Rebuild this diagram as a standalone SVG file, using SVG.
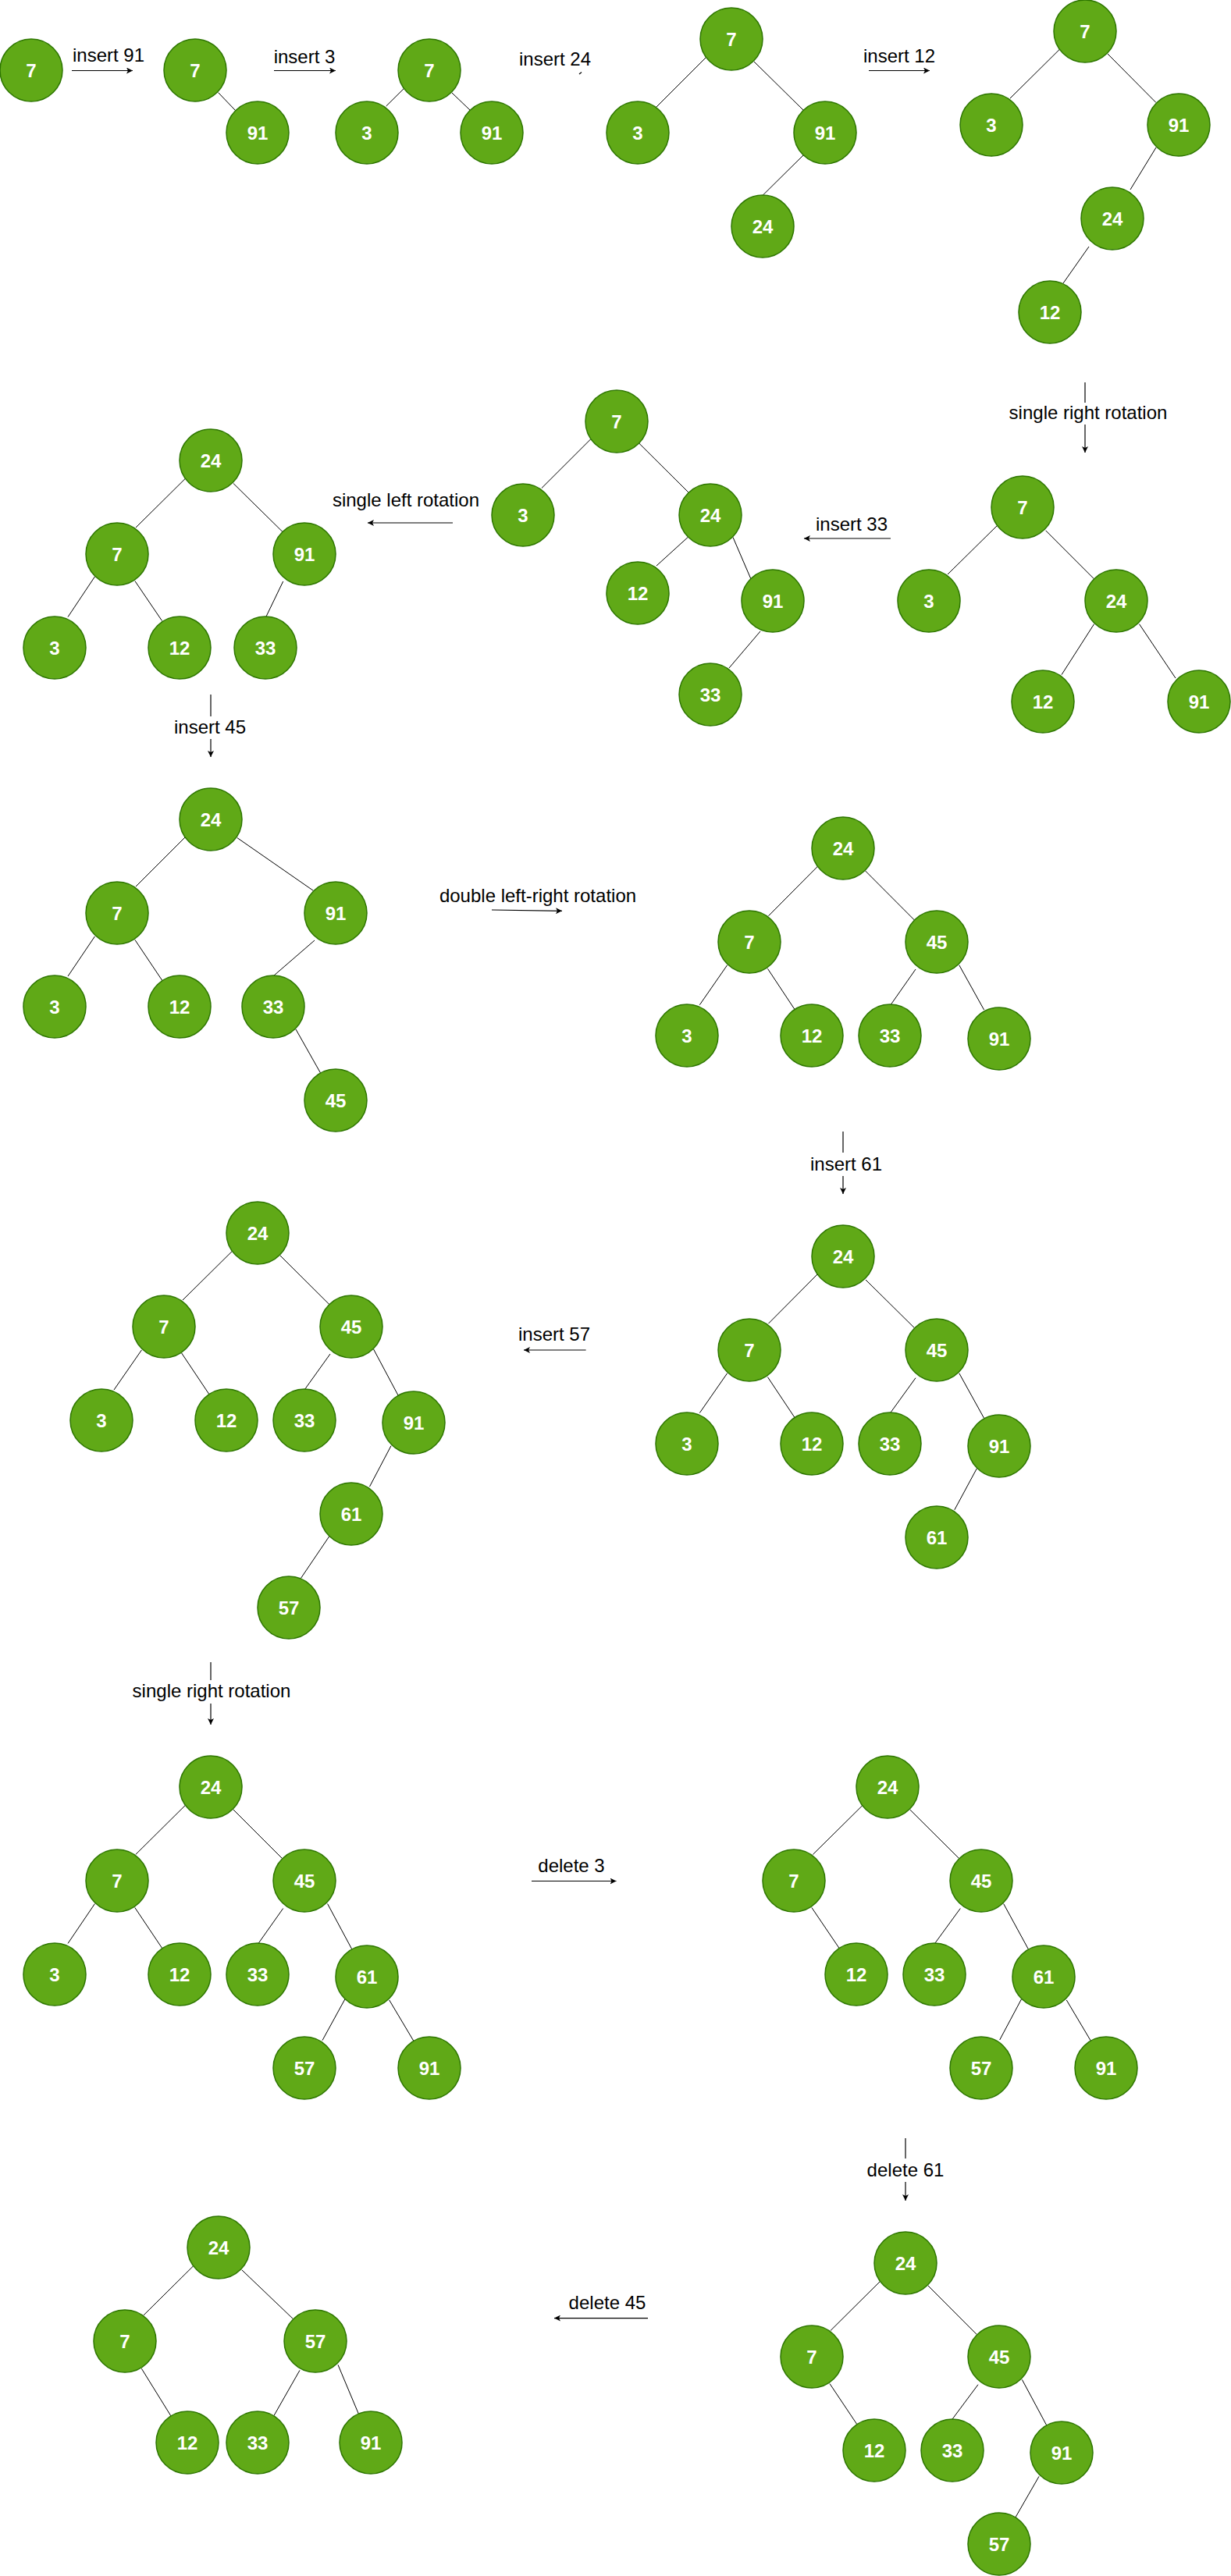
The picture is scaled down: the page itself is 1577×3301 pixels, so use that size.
<svg xmlns="http://www.w3.org/2000/svg" width="1577" height="3301" viewBox="0 0 1577 3301">
<style>
.node circle{fill:#60a917;stroke:#2d7600;stroke-width:1.5}
.node text{font-family:"Liberation Sans",Arial,Helvetica,sans-serif;font-weight:bold;font-size:24px;fill:#ffffff;text-anchor:middle}
.edge line{stroke:#000;stroke-width:1;fill:none}
.arr{stroke:#000;stroke-width:1.2;fill:none;marker-end:url(#ah)}
.lbl{font-family:"Liberation Sans",Arial,Helvetica,sans-serif;font-size:24px;fill:#000;text-anchor:middle}
.gap{fill:#fff}
</style>
<defs>
<marker id="ah" markerUnits="userSpaceOnUse" markerWidth="9" markerHeight="8" refX="8" refY="4" orient="auto">
<path d="M0,0 L8,4 L0,8 L2,4 z" fill="#000"/>
</marker>
</defs>
<rect width="1577" height="3301" fill="#fff"/>
<g id="connectors" class="edge">
<line x1="279.6" y1="118.6" x2="302" y2="142"/>
<line x1="520.4" y1="110.5" x2="494.7" y2="136"/>
<line x1="579" y1="119" x2="602" y2="141"/>
<line x1="907" y1="71" x2="841" y2="137"/>
<line x1="966" y1="79" x2="1029" y2="141"/>
<line x1="1029" y1="199" x2="977.4" y2="250"/>
<line x1="1360" y1="60.7" x2="1294" y2="126"/>
<line x1="1419" y1="69" x2="1481" y2="131.5"/>
<line x1="1481" y1="189" x2="1448" y2="243"/>
<line x1="1395" y1="316" x2="1362" y2="363"/>
<line x1="759.7" y1="559.8" x2="694" y2="625.4"/>
<line x1="818.7" y1="568" x2="881.7" y2="630.7"/>
<line x1="881.7" y1="688" x2="841" y2="725"/>
<line x1="939" y1="688.5" x2="962" y2="742"/>
<line x1="974" y1="809" x2="934" y2="856"/>
<line x1="1280" y1="671" x2="1214" y2="736"/>
<line x1="1339.6" y1="679.8" x2="1401.6" y2="741.9"/>
<line x1="1401.6" y1="799.7" x2="1360" y2="864.6"/>
<line x1="1459.5" y1="799.7" x2="1506" y2="869"/>
<line x1="240" y1="610.7" x2="174" y2="676"/>
<line x1="299" y1="619.5" x2="362" y2="681.5"/>
<line x1="121.4" y1="739" x2="87" y2="790.6"/>
<line x1="173" y1="744.7" x2="207.5" y2="795.5"/>
<line x1="362.7" y1="745" x2="341" y2="790"/>
<line x1="240" y1="1070" x2="174" y2="1136"/>
<line x1="304" y1="1073.7" x2="401.5" y2="1141.4"/>
<line x1="121.4" y1="1200" x2="87" y2="1251"/>
<line x1="173" y1="1204.5" x2="207.5" y2="1256"/>
<line x1="403" y1="1205" x2="351" y2="1250"/>
<line x1="379" y1="1319" x2="410.6" y2="1375"/>
<line x1="1050" y1="1107.7" x2="984.5" y2="1173.7"/>
<line x1="1108.4" y1="1115.8" x2="1171.4" y2="1179"/>
<line x1="931.6" y1="1236.8" x2="896.3" y2="1287.7"/>
<line x1="983.5" y1="1241.4" x2="1017.7" y2="1293"/>
<line x1="1173" y1="1242" x2="1141" y2="1287.7"/>
<line x1="1228.8" y1="1236.8" x2="1260.6" y2="1294"/>
<line x1="1050" y1="1630" x2="984.5" y2="1696"/>
<line x1="1109" y1="1640" x2="1171.4" y2="1701.6"/>
<line x1="931.6" y1="1759.8" x2="896.3" y2="1810.6"/>
<line x1="983.5" y1="1764.7" x2="1017.7" y2="1816"/>
<line x1="1173" y1="1765.7" x2="1141" y2="1810"/>
<line x1="1228.8" y1="1759.8" x2="1260.6" y2="1817.3"/>
<line x1="1251.5" y1="1881.5" x2="1222.8" y2="1934.8"/>
<line x1="300.8" y1="1600" x2="234" y2="1666"/>
<line x1="359" y1="1609" x2="422" y2="1671.7"/>
<line x1="181.4" y1="1730" x2="146" y2="1781"/>
<line x1="232.7" y1="1734" x2="268" y2="1786.8"/>
<line x1="423" y1="1735" x2="390.4" y2="1780.5"/>
<line x1="478.6" y1="1729" x2="510" y2="1788"/>
<line x1="501" y1="1852.7" x2="473.5" y2="1905"/>
<line x1="421.6" y1="1969" x2="385.4" y2="2022.5"/>
<line x1="240.3" y1="2310.5" x2="173.8" y2="2376.4"/>
<line x1="299" y1="2319" x2="361.7" y2="2381.7"/>
<line x1="121.4" y1="2439.6" x2="87" y2="2490.4"/>
<line x1="172.8" y1="2444.5" x2="207.6" y2="2496.4"/>
<line x1="362.7" y1="2445.5" x2="331" y2="2490.4"/>
<line x1="419.6" y1="2439.6" x2="450.9" y2="2498"/>
<line x1="441.8" y1="2562" x2="413" y2="2614.6"/>
<line x1="498.7" y1="2563" x2="530" y2="2615.6"/>
<line x1="1108" y1="2310.5" x2="1041.4" y2="2376.4"/>
<line x1="1165.8" y1="2319" x2="1228.8" y2="2381.7"/>
<line x1="1039.9" y1="2444.5" x2="1075" y2="2496.4"/>
<line x1="1230.3" y1="2445.5" x2="1197.6" y2="2490.4"/>
<line x1="1285.7" y1="2439.6" x2="1317.5" y2="2498"/>
<line x1="1308.4" y1="2562" x2="1280.7" y2="2614"/>
<line x1="1366.3" y1="2563" x2="1397.6" y2="2615.6"/>
<line x1="1130.6" y1="2920.4" x2="1064" y2="2986.5"/>
<line x1="1189" y1="2929" x2="1251.5" y2="2991.7"/>
<line x1="1063" y1="3054.6" x2="1097.8" y2="3106.6"/>
<line x1="1253" y1="3055.7" x2="1220" y2="3100"/>
<line x1="1309.4" y1="3049.4" x2="1341" y2="3108.4"/>
<line x1="1331" y1="3173.4" x2="1300.8" y2="3226"/>
<line x1="250.4" y1="2901" x2="184" y2="2966.8"/>
<line x1="309.8" y1="2908.8" x2="375.3" y2="2971.4"/>
<line x1="181.4" y1="3035.3" x2="219" y2="3096"/>
<line x1="384" y1="3037.4" x2="351" y2="3095.4"/>
<line x1="433" y1="3030.4" x2="459.4" y2="3093.3"/>
</g>
<g id="steps">
<line class="arr" x1="92" y1="90.5" x2="170" y2="90.5"/>
<text class="lbl" x="139" y="79">insert 91</text>
<line class="arr" x1="351" y1="90.5" x2="430" y2="90.5"/>
<text class="lbl" x="390" y="81">insert 3</text>
<text class="lbl" x="711" y="84">insert 24</text>
<line x1="742" y1="95" x2="745" y2="92.5" stroke="#000" stroke-width="1.2"/>
<line class="arr" x1="1113" y1="90.5" x2="1191" y2="90.5"/>
<text class="lbl" x="1152" y="80">insert 12</text>
<line class="arr" x1="1390" y1="490" x2="1390" y2="580"/>
<rect class="gap" x="1286" y="516" width="216" height="28"/>
<text class="lbl" x="1394" y="537">single right rotation</text>
<line class="arr" x1="1141" y1="690" x2="1030" y2="690"/>
<text class="lbl" x="1091" y="680">insert 33</text>
<line class="arr" x1="580" y1="670" x2="471" y2="670"/>
<text class="lbl" x="520" y="649">single left rotation</text>
<line class="arr" x1="270" y1="890" x2="270" y2="970"/>
<rect class="gap" x="220" y="918" width="100" height="29"/>
<text class="lbl" x="269" y="940">insert 45</text>
<line class="arr" x1="630" y1="1166" x2="720" y2="1167.3"/>
<text class="lbl" x="689" y="1156">double left-right rotation</text>
<line class="arr" x1="1080" y1="1450" x2="1080" y2="1530"/>
<rect class="gap" x="1034" y="1477" width="100" height="30"/>
<text class="lbl" x="1084" y="1500">insert 61</text>
<line class="arr" x1="750.6" y1="1730" x2="671" y2="1730"/>
<text class="lbl" x="710" y="1718">insert 57</text>
<line class="arr" x1="270" y1="2130" x2="270" y2="2210"/>
<rect class="gap" x="163" y="2153" width="216" height="30"/>
<text class="lbl" x="271" y="2175">single right rotation</text>
<line class="arr" x1="681" y1="2410.5" x2="789.5" y2="2410.5"/>
<text class="lbl" x="732" y="2399">delete 3</text>
<line class="arr" x1="1160" y1="2740" x2="1160" y2="2820"/>
<rect class="gap" x="1106" y="2766" width="108" height="30"/>
<text class="lbl" x="1160" y="2789">delete 61</text>
<line class="arr" x1="830" y1="2970.6" x2="710" y2="2970.6"/>
<text class="lbl" x="778" y="2959">delete 45</text>
</g>
<g id="t1-7" class="node"><circle cx="40" cy="90" r="40"/><text x="40" y="98.5">7</text></g>
<g id="t2-7" class="node"><circle cx="250" cy="90" r="40"/><text x="250" y="98.5">7</text></g>
<g id="t2-91" class="node"><circle cx="330" cy="170" r="40"/><text x="330" y="178.5">91</text></g>
<g id="t3-7" class="node"><circle cx="550" cy="90" r="40"/><text x="550" y="98.5">7</text></g>
<g id="t3-3" class="node"><circle cx="470" cy="170" r="40"/><text x="470" y="178.5">3</text></g>
<g id="t3-91" class="node"><circle cx="630" cy="170" r="40"/><text x="630" y="178.5">91</text></g>
<g id="t4-7" class="node"><circle cx="937" cy="50" r="40"/><text x="937" y="58.5">7</text></g>
<g id="t4-3" class="node"><circle cx="817" cy="170" r="40"/><text x="817" y="178.5">3</text></g>
<g id="t4-91" class="node"><circle cx="1057" cy="170" r="40"/><text x="1057" y="178.5">91</text></g>
<g id="t4-24" class="node"><circle cx="977" cy="290" r="40"/><text x="977" y="298.5">24</text></g>
<g id="t5-7" class="node"><circle cx="1390" cy="40" r="40"/><text x="1390" y="48.5">7</text></g>
<g id="t5-3" class="node"><circle cx="1270" cy="160" r="40"/><text x="1270" y="168.5">3</text></g>
<g id="t5-91" class="node"><circle cx="1510" cy="160" r="40"/><text x="1510" y="168.5">91</text></g>
<g id="t5-24" class="node"><circle cx="1425" cy="280" r="40"/><text x="1425" y="288.5">24</text></g>
<g id="t5-12" class="node"><circle cx="1345" cy="400" r="40"/><text x="1345" y="408.5">12</text></g>
<g id="t6-7" class="node"><circle cx="1310" cy="650" r="40"/><text x="1310" y="658.5">7</text></g>
<g id="t6-3" class="node"><circle cx="1190" cy="770" r="40"/><text x="1190" y="778.5">3</text></g>
<g id="t6-24" class="node"><circle cx="1430" cy="770" r="40"/><text x="1430" y="778.5">24</text></g>
<g id="t6-12" class="node"><circle cx="1336" cy="899" r="40"/><text x="1336" y="907.5">12</text></g>
<g id="t6-91" class="node"><circle cx="1536" cy="899" r="40"/><text x="1536" y="907.5">91</text></g>
<g id="t7-7" class="node"><circle cx="790" cy="540" r="40"/><text x="790" y="548.5">7</text></g>
<g id="t7-3" class="node"><circle cx="670" cy="660" r="40"/><text x="670" y="668.5">3</text></g>
<g id="t7-24" class="node"><circle cx="910" cy="660" r="40"/><text x="910" y="668.5">24</text></g>
<g id="t7-12" class="node"><circle cx="817" cy="760" r="40"/><text x="817" y="768.5">12</text></g>
<g id="t7-91" class="node"><circle cx="990" cy="770" r="40"/><text x="990" y="778.5">91</text></g>
<g id="t7-33" class="node"><circle cx="910" cy="890" r="40"/><text x="910" y="898.5">33</text></g>
<g id="t8-24" class="node"><circle cx="270" cy="590" r="40"/><text x="270" y="598.5">24</text></g>
<g id="t8-7" class="node"><circle cx="150" cy="710" r="40"/><text x="150" y="718.5">7</text></g>
<g id="t8-91" class="node"><circle cx="390" cy="710" r="40"/><text x="390" y="718.5">91</text></g>
<g id="t8-3" class="node"><circle cx="70" cy="830" r="40"/><text x="70" y="838.5">3</text></g>
<g id="t8-12" class="node"><circle cx="230" cy="830" r="40"/><text x="230" y="838.5">12</text></g>
<g id="t8-33" class="node"><circle cx="340" cy="830" r="40"/><text x="340" y="838.5">33</text></g>
<g id="t9-24" class="node"><circle cx="270" cy="1050" r="40"/><text x="270" y="1058.5">24</text></g>
<g id="t9-7" class="node"><circle cx="150" cy="1170" r="40"/><text x="150" y="1178.5">7</text></g>
<g id="t9-91" class="node"><circle cx="430" cy="1170" r="40"/><text x="430" y="1178.5">91</text></g>
<g id="t9-3" class="node"><circle cx="70" cy="1290" r="40"/><text x="70" y="1298.5">3</text></g>
<g id="t9-12" class="node"><circle cx="230" cy="1290" r="40"/><text x="230" y="1298.5">12</text></g>
<g id="t9-33" class="node"><circle cx="350" cy="1290" r="40"/><text x="350" y="1298.5">33</text></g>
<g id="t9-45" class="node"><circle cx="430" cy="1410" r="40"/><text x="430" y="1418.5">45</text></g>
<g id="t10-24" class="node"><circle cx="1080" cy="1087" r="40"/><text x="1080" y="1095.5">24</text></g>
<g id="t10-7" class="node"><circle cx="960" cy="1207" r="40"/><text x="960" y="1215.5">7</text></g>
<g id="t10-45" class="node"><circle cx="1200" cy="1207" r="40"/><text x="1200" y="1215.5">45</text></g>
<g id="t10-3" class="node"><circle cx="880" cy="1327" r="40"/><text x="880" y="1335.5">3</text></g>
<g id="t10-12" class="node"><circle cx="1040" cy="1327" r="40"/><text x="1040" y="1335.5">12</text></g>
<g id="t10-33" class="node"><circle cx="1140" cy="1327" r="40"/><text x="1140" y="1335.5">33</text></g>
<g id="t10-91" class="node"><circle cx="1280" cy="1331" r="40"/><text x="1280" y="1339.5">91</text></g>
<g id="t11-24" class="node"><circle cx="1080" cy="1610" r="40"/><text x="1080" y="1618.5">24</text></g>
<g id="t11-7" class="node"><circle cx="960" cy="1730" r="40"/><text x="960" y="1738.5">7</text></g>
<g id="t11-45" class="node"><circle cx="1200" cy="1730" r="40"/><text x="1200" y="1738.5">45</text></g>
<g id="t11-3" class="node"><circle cx="880" cy="1850" r="40"/><text x="880" y="1858.5">3</text></g>
<g id="t11-12" class="node"><circle cx="1040" cy="1850" r="40"/><text x="1040" y="1858.5">12</text></g>
<g id="t11-33" class="node"><circle cx="1140" cy="1850" r="40"/><text x="1140" y="1858.5">33</text></g>
<g id="t11-91" class="node"><circle cx="1280" cy="1853" r="40"/><text x="1280" y="1861.5">91</text></g>
<g id="t11-61" class="node"><circle cx="1200" cy="1970" r="40"/><text x="1200" y="1978.5">61</text></g>
<g id="t12-24" class="node"><circle cx="330" cy="1580" r="40"/><text x="330" y="1588.5">24</text></g>
<g id="t12-7" class="node"><circle cx="210" cy="1700" r="40"/><text x="210" y="1708.5">7</text></g>
<g id="t12-45" class="node"><circle cx="450" cy="1700" r="40"/><text x="450" y="1708.5">45</text></g>
<g id="t12-3" class="node"><circle cx="130" cy="1820" r="40"/><text x="130" y="1828.5">3</text></g>
<g id="t12-12" class="node"><circle cx="290" cy="1820" r="40"/><text x="290" y="1828.5">12</text></g>
<g id="t12-33" class="node"><circle cx="390" cy="1820" r="40"/><text x="390" y="1828.5">33</text></g>
<g id="t12-91" class="node"><circle cx="530" cy="1823" r="40"/><text x="530" y="1831.5">91</text></g>
<g id="t12-61" class="node"><circle cx="450" cy="1940" r="40"/><text x="450" y="1948.5">61</text></g>
<g id="t12-57" class="node"><circle cx="370" cy="2060" r="40"/><text x="370" y="2068.5">57</text></g>
<g id="t13-24" class="node"><circle cx="270" cy="2290" r="40"/><text x="270" y="2298.5">24</text></g>
<g id="t13-7" class="node"><circle cx="150" cy="2410" r="40"/><text x="150" y="2418.5">7</text></g>
<g id="t13-45" class="node"><circle cx="390" cy="2410" r="40"/><text x="390" y="2418.5">45</text></g>
<g id="t13-3" class="node"><circle cx="70" cy="2530" r="40"/><text x="70" y="2538.5">3</text></g>
<g id="t13-12" class="node"><circle cx="230" cy="2530" r="40"/><text x="230" y="2538.5">12</text></g>
<g id="t13-33" class="node"><circle cx="330" cy="2530" r="40"/><text x="330" y="2538.5">33</text></g>
<g id="t13-61" class="node"><circle cx="470" cy="2533" r="40"/><text x="470" y="2541.5">61</text></g>
<g id="t13-57" class="node"><circle cx="390" cy="2650" r="40"/><text x="390" y="2658.5">57</text></g>
<g id="t13-91" class="node"><circle cx="550" cy="2650" r="40"/><text x="550" y="2658.5">91</text></g>
<g id="t14-24" class="node"><circle cx="1137" cy="2290" r="40"/><text x="1137" y="2298.5">24</text></g>
<g id="t14-7" class="node"><circle cx="1017" cy="2410" r="40"/><text x="1017" y="2418.5">7</text></g>
<g id="t14-45" class="node"><circle cx="1257" cy="2410" r="40"/><text x="1257" y="2418.5">45</text></g>
<g id="t14-12" class="node"><circle cx="1097" cy="2530" r="40"/><text x="1097" y="2538.5">12</text></g>
<g id="t14-33" class="node"><circle cx="1197" cy="2530" r="40"/><text x="1197" y="2538.5">33</text></g>
<g id="t14-61" class="node"><circle cx="1337" cy="2533" r="40"/><text x="1337" y="2541.5">61</text></g>
<g id="t14-57" class="node"><circle cx="1257" cy="2650" r="40"/><text x="1257" y="2658.5">57</text></g>
<g id="t14-91" class="node"><circle cx="1417" cy="2650" r="40"/><text x="1417" y="2658.5">91</text></g>
<g id="t15-24" class="node"><circle cx="1160" cy="2900" r="40"/><text x="1160" y="2908.5">24</text></g>
<g id="t15-7" class="node"><circle cx="1040" cy="3020" r="40"/><text x="1040" y="3028.5">7</text></g>
<g id="t15-45" class="node"><circle cx="1280" cy="3020" r="40"/><text x="1280" y="3028.5">45</text></g>
<g id="t15-12" class="node"><circle cx="1120" cy="3140" r="40"/><text x="1120" y="3148.5">12</text></g>
<g id="t15-33" class="node"><circle cx="1220" cy="3140" r="40"/><text x="1220" y="3148.5">33</text></g>
<g id="t15-91" class="node"><circle cx="1360" cy="3143" r="40"/><text x="1360" y="3151.5">91</text></g>
<g id="t15-57" class="node"><circle cx="1280" cy="3260" r="40"/><text x="1280" y="3268.5">57</text></g>
<g id="t16-24" class="node"><circle cx="280" cy="2880" r="40"/><text x="280" y="2888.5">24</text></g>
<g id="t16-7" class="node"><circle cx="160" cy="3000" r="40"/><text x="160" y="3008.5">7</text></g>
<g id="t16-57" class="node"><circle cx="404" cy="3000" r="40"/><text x="404" y="3008.5">57</text></g>
<g id="t16-12" class="node"><circle cx="240" cy="3130" r="40"/><text x="240" y="3138.5">12</text></g>
<g id="t16-33" class="node"><circle cx="330" cy="3130" r="40"/><text x="330" y="3138.5">33</text></g>
<g id="t16-91" class="node"><circle cx="475" cy="3130" r="40"/><text x="475" y="3138.5">91</text></g>
</svg>
